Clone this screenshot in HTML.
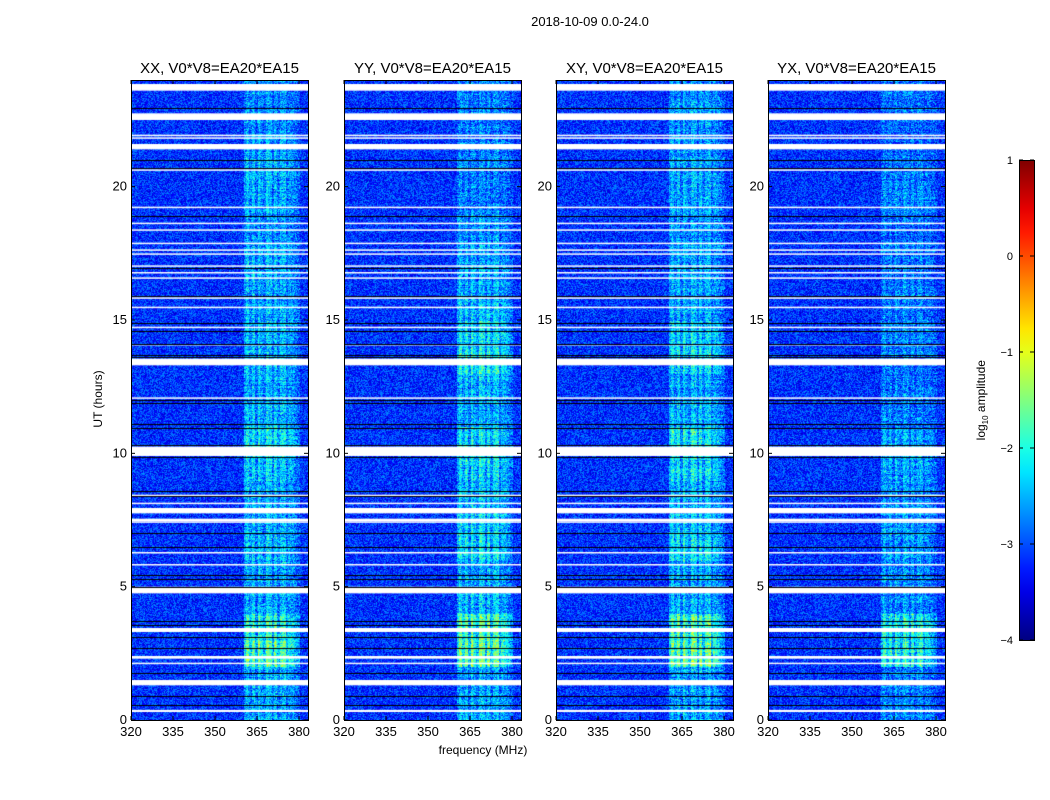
<!DOCTYPE html>
<html><head><meta charset="utf-8">
<style>
body{margin:0;background:#fff;width:1050px;height:800px;overflow:hidden;font-family:"Liberation Sans","DejaVu Sans",sans-serif;}
#wrap{position:relative;width:1050px;height:800px;}
.t{position:absolute;white-space:nowrap;color:#000;}
canvas{position:absolute;}
</style></head><body>
<div id="wrap">
<div class="t" style="left:490px;top:14px;width:200px;text-align:center;font-size:13px;">2018-10-09 0.0-24.0</div>
<div class="t" style="left:383px;top:743px;width:200px;text-align:center;font-size:12px;">frequency (MHz)</div>
<div class="t" style="left:48px;top:392px;width:100px;text-align:center;font-size:12px;transform:rotate(-90deg);">UT (hours)</div>
<div class="t" style="left:922px;top:392px;width:120px;text-align:center;font-size:12px;transform:rotate(-90deg);">log<sub style="font-size:8px">10</sub> amplitude</div>
<svg id="ax" width="1050" height="800" style="position:absolute;left:0;top:0"></svg>
</div>
<script>
// ---- data ----
const panelTitles = ["XX, V0*V8=EA20*EA15","YY, V0*V8=EA20*EA15","XY, V0*V8=EA20*EA15","YX, V0*V8=EA20*EA15"];
const freqTicks = [320,335,350,365,380];
const utTicks = [0,5,10,15,20];
const cbTicks = [1,0,-1,-2,-3,-4];
// flagged (white) time ranges [startUT, endUT]
const whiteRows = [[23.6,23.85],[22.5,22.75],[21.9,21.95],[21.8,21.85],[21.4,21.6],[20.6,20.65],[19.2,19.25],[18.6,18.65],[18.35,18.4],[17.85,17.9],[17.6,17.65],[17.45,17.5],[17.0,17.05],[16.75,16.8],[16.55,16.6],[15.8,15.85],[15.45,15.5],[14.7,14.75],[14.05,14.1],[13.3,13.55],[12.05,12.1],[9.9,10.25],[8.4,8.45],[8.1,8.15],[7.75,7.95],[7.45,7.55],[7.4,7.45],[6.25,6.3],[5.8,5.85],[4.75,5.0],[3.3,3.45],[2.3,2.4],[2.1,2.15],[1.3,1.5],[0.3,0.38]];
// black (row boundary) lines, UT
const blackRows = [22.95,21.0,20.7,18.9,16.95,15.9,14.9,14.6,14.1,13.7,13.6,12.0,11.9,11.1,10.95,10.3,9.85,8.6,8.4,7.0,6.5,5.45,5.3,5.0,3.7,3.55,3.1,2.7,1.75,0.9,0.55];
// band excess log-amplitude per hour (0..23), per panel
const bandXX = [0.6,0.6,1.3,1.1,0.6,0.6,0.7,0.6,0.6,0.8,0.9,0.7,0.6,0.7,0.7,0.6,0.6,0.6,0.5,0.6,0.6,0.6,0.5,0.5];
const bandYY = [0.6,0.6,1.4,1.3,0.7,0.6,0.9,0.8,0.7,0.9,0.9,0.6,0.7,1.0,0.9,0.7,0.6,0.6,0.5,0.4,0.4,0.4,0.4,0.4];
const bandXY = [0.6,0.6,1.4,1.3,0.6,0.6,0.9,0.7,0.7,0.9,1.0,0.7,0.6,0.9,0.8,0.6,0.6,0.6,0.5,0.6,0.6,0.5,0.5,0.5];
const bandYX = [0.4,0.4,1.1,1.0,0.5,0.5,0.6,0.5,0.5,0.6,0.6,0.4,0.4,0.4,0.4,0.4,0.4,0.4,0.3,0.4,0.4,0.3,0.3,0.3];
const bands = [bandXX,bandYY,bandXY,bandYX];
const bandStart = [360,360,360,360];
// per-MHz stripe modulation inside band (360..379)
const stripe = [0.5,0.9,0.4,0.9,0.2,1.0,0.6,0.3,1.0,0.8,0.2,0.9,0.3,0.8,0.9,0.2,0.6,0.5,0.3,0.1];
const baseLevel = -3.15;

// ---- layout ----
const panelX=[131,344,556,768], PW=177, PT=80, PB=720;
const f2x=(f,i)=>panelX[i]+(f-320)*(PW/63.2);
const u2y=u=>PB-u*(PB-PT)/24;
function jet(v){let t=(v+4)/5;t=Math.max(0,Math.min(1,t));
 const c=x=>Math.round(255*Math.max(0,Math.min(1,x)));
 return [c(1.5-Math.abs(4*t-3)),c(1.5-Math.abs(4*t-2)),c(1.5-Math.abs(4*t-1))];}
function hash(x,y){let h=(x*374761393+y*668265263)|0;h=(h^(h>>>13))*1274126177|0;return ((h^(h>>>16))>>>0)/4294967295;}

const wrap=document.getElementById('wrap');
const svg=document.getElementById('ax');
const NS='http://www.w3.org/2000/svg';
function sv(tag,attrs,parent){const e=document.createElementNS(NS,tag);for(const k in attrs)e.setAttribute(k,attrs[k]);(parent||svg).appendChild(e);return e;}

for(let i=0;i<4;i++){
 const cv=document.createElement('canvas');
 
 
 cv.width=PW;cv.height=PB-PT;cv.style.left=panelX[i]+'px';cv.style.top=PT+'px';
 wrap.insertBefore(cv,svg);
 const ctx=cv.getContext('2d');const img=ctx.createImageData(PW,PB-PT);
 for(let y=0;y<PB-PT;y++){
  const ut=(PB-PT-y)*24/(PB-PT);
  const hr=Math.min(23,Math.floor(ut));
  const rowv=(hash(y,i*31+7)-0.5)*0.3;
  for(let x=0;x<PW;x++){
   const f=320+x*63.2/PW;
   let v=baseLevel+(hash(x+i*1000,y)-0.5)*1.0;
   const bi=Math.floor(f)-bandStart[i];
   if(bi>=0&&bi<stripe.length){v+=bands[i][hr]*(0.3+1.0*stripe[bi])+rowv+(hash(y*7+i,x*3)-0.5)*0.6;}
   const [r,g,b]=jet(v);const p=(y*PW+x)*4;
   img.data[p]=r;img.data[p+1]=g;img.data[p+2]=b;img.data[p+3]=255;}}
 ctx.putImageData(img,0,0);
 ctx.fillStyle='#fff';
 whiteRows.forEach(w=>{const y1=u2y(w[1])-PT,y0=u2y(w[0])-PT;ctx.fillRect(0,y1,PW,Math.max(1.5,y0-y1));});
 ctx.fillStyle='#000';
 blackRows.forEach(u=>{ctx.fillRect(0,Math.round(u2y(u)-PT),PW,1);});
 const g=sv('g',{});
 
 
 sv('rect',{x:panelX[i]+0.5,y:PT+0.5,width:PW,height:PB-PT,fill:'none',stroke:'#000','stroke-width':1},g);
 const tt=sv('text',{x:panelX[i]+PW/2,y:73,'text-anchor':'middle','font-size':15},g);
 tt.textContent=panelTitles[i];
 
 
 freqTicks.forEach(f=>{const x=f2x(f,i);
  sv('line',{x1:x,x2:x,y1:PB,y2:PB-4,stroke:'#000'},g);sv('line',{x1:x,x2:x,y1:PT,y2:PT+4,stroke:'#000'},g);
  const t=sv('text',{x:x,y:PB+16,'text-anchor':'middle','font-size':13},g);t.textContent=f;
  
  });
 utTicks.forEach(u=>{const y=u2y(u);
  sv('line',{x1:panelX[i],x2:panelX[i]+4,y1:y,y2:y,stroke:'#000'},g);sv('line',{x1:panelX[i]+PW,x2:panelX[i]+PW-4,y1:y,y2:y,stroke:'#000'},g);
  const t=sv('text',{x:panelX[i]-4,y:y+4,'text-anchor':'end','font-size':13},g);t.textContent=u;
  
  });
}
// colorbar
const CX=1019,CW=15,CT=160,CB=640;
const defs=sv('defs',{});const lg=sv('linearGradient',{id:'jg',x1:0,y1:1,x2:0,y2:0},defs);
for(let k=0;k<=20;k++){const [r,g,b]=jet(-4+5*k/20);sv('stop',{offset:k/20,'stop-color':`rgb(${r},${g},${b})`},lg);}
const cb=sv('rect',{x:CX+0.5,y:CT+0.5,width:CW,height:CB-CT,fill:'url(#jg)',stroke:'#000'});


cbTicks.forEach(v=>{const y=CB-(v+4)/5*(CB-CT);
 sv('line',{x1:CX,x2:CX+4,y1:y,y2:y,stroke:'#000'});sv('line',{x1:CX+CW,x2:CX+CW-4,y1:y,y2:y,stroke:'#000'});
 const t=sv('text',{x:CX-6,y:y+4,'text-anchor':'end','font-size':11});t.textContent=v<0?'\u2212'+(-v):v;
 
 });
</script>
</body></html>
